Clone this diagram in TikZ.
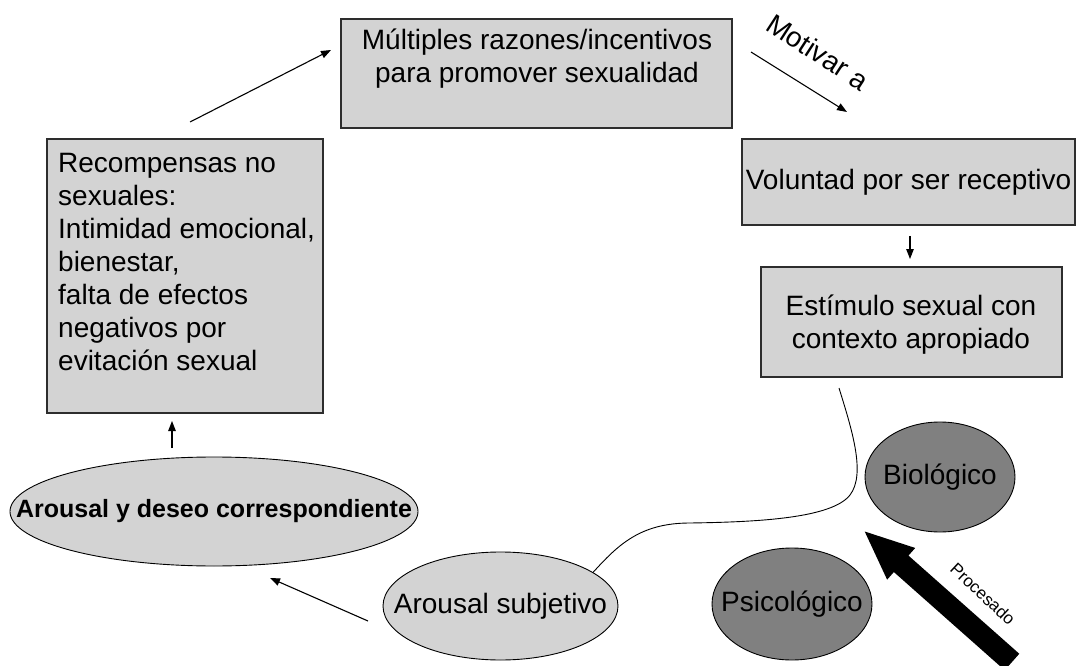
\documentclass[tikz,border=0pt]{standalone}
\usepackage{fontspec}
\setmainfont{Liberation Sans}
\usetikzlibrary{arrows.meta,shapes.geometric}
\definecolor{boxgray}{RGB}{211,211,211}
\definecolor{darkfill}{RGB}{128,128,128}
\definecolor{edge}{RGB}{45,45,45}

\begin{document}
\begin{tikzpicture}[x=1pt,y=-1pt,
  box/.style={draw=edge, line width=1.4pt, fill=boxgray, rectangle, inner sep=0pt},
  lightoval/.style={draw=black, line width=0.9pt, fill=boxgray, ellipse, inner sep=0pt},
  darkoval/.style={draw=black, line width=0.9pt, fill=darkfill, ellipse, inner sep=0pt},
  txt/.style={inner sep=0pt, font=\fontsize{28}{33}\selectfont, align=center},
  flow/.style={line width=1.1pt, -{Triangle[length=10pt,width=7.5pt]}},
]
\path[use as bounding box] (0,0) rectangle (1080,666);

% boxes
\node[box, minimum width=391pt, minimum height=109pt] (motives) at (536.5,73.5) {};
\node[box, minimum width=333pt, minimum height=86pt] (will) at (908.5,182) {};
\node[box, minimum width=301pt, minimum height=110pt] (stim) at (911.5,322) {};
\node[box, minimum width=276pt, minimum height=274pt] (rewards) at (185,276) {};

% box texts (base anchor = baseline of the last line)
\node[txt, anchor=base] (motivestext) at (537,83) {Múltiples razones/incentivos\\para promover sexualidad};
\node[txt] (willtext) at (will.center) {Voluntad por ser receptivo};
\node[txt, anchor=base] (stimtext) at (911,348) {Estímulo sexual con\\contexto apropiado};
\node[txt, align=left, anchor=base west] (rewardstext) at (58,370) {Recompensas no\\sexuales:\\Intimidad emocional,\\bienestar,\\falta de efectos\\negativos por\\evitación sexual};

% ovals
\node[lightoval, minimum width=408pt, minimum height=109pt] (desire) at (214,511.5) {};
\node[lightoval, minimum width=235pt, minimum height=108pt] (subj) at (500.5,606) {};
\node[darkoval, minimum width=150pt, minimum height=110pt] (bio) at (940,477) {};
\node[darkoval, minimum width=160pt, minimum height=112pt] (psy) at (792,604) {};

\node[txt, font=\fontsize{25}{30}\selectfont\bfseries] (desiretext) at (desire.center) {Arousal y deseo correspondiente};
\node[txt] (subjtext) at (subj.center) {Arousal subjetivo};
\node[txt] (biotext) at (bio.center) {Biológico};
\node[txt] (psytext) at (psy.center) {Psicológico};

% arrow end points
\coordinate (r2m) at (190,122);
\coordinate (m2r) at (331,50);
\coordinate (m2w) at (751,52);
\coordinate (w2m) at (847,112);
\coordinate (w2s) at (910,236);
\coordinate (s2w) at (910,259);
\coordinate (d2r) at (172,448);
\coordinate (r2d) at (172,421);
\coordinate (s2d) at (368,621);
\coordinate (d2s) at (270,578);
\coordinate (curvestart) at (839,388);
\coordinate (proctail) at (1012,662);
\coordinate (proctip) at (863,530);

\draw[flow] (r2m) -- (m2r);
\draw[flow] (m2w) -- (w2m);
\draw[flow] (w2s) -- (s2w);
\draw[flow] (d2r) -- (r2d);
\draw[flow] (s2d) -- (d2s);

\node[font=\fontsize{28}{32}\selectfont, rotate=-33, inner sep=0pt] (motivlabel) at (818,52) {Motivar a};

% curve from the stimulus down to the subjective arousal
\draw[line width=0.9pt] (curvestart)
  .. controls (852,430) and (866,474) .. (850,495)
  .. controls (832,518) and (760,522) .. (690,523)
  .. controls (640,523) and (618,545) .. (subj.20);

% processing arrow
\draw[line width=22pt, -{Triangle[length=51pt,width=38pt]}] (proctail) -- (proctip);
\node[font=\fontsize{17}{20}\selectfont, rotate=-43, inner sep=0pt] (proclabel) at (983,594) {Procesado};

\end{tikzpicture}
\end{document}
